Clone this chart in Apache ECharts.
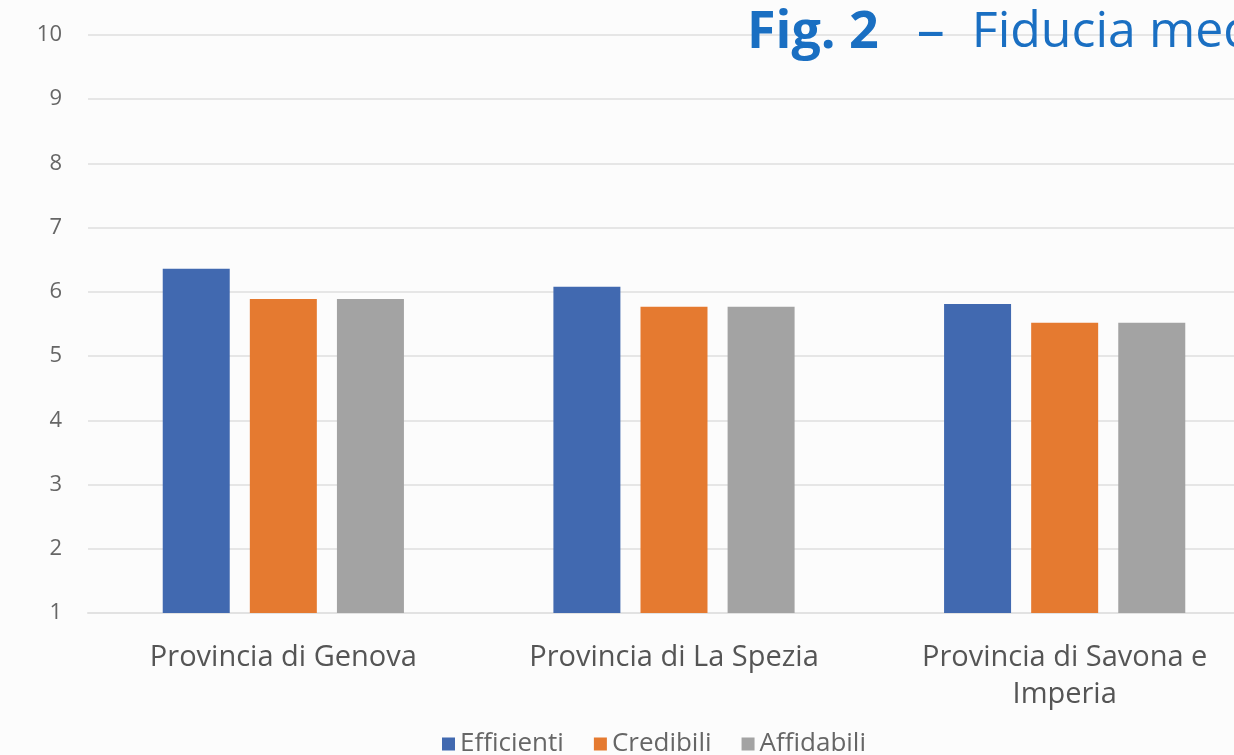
<!DOCTYPE html>
<html>
<head>
<meta charset="utf-8">
<script src="https://cdn.jsdelivr.net/npm/echarts@6/dist/echarts.min.js"></script>
<style>
  html, body { margin: 0; padding: 0; background: #fcfcfc; overflow: hidden; }
  #chart { width: 1260px; height: 755px; }
</style>
</head>
<body>
<div id="chart"></div>
<script>
const categories = ['Provincia di Genova', 'Provincia di La Spezia', 'Provincia di Savona e\nImperia'];
const efficienti = [6.36, 6.08, 5.81];
const credibili = [5.89, 5.77, 5.52];
const affidabili = [5.89, 5.77, 5.52];
const yTicks = [1, 10, 1]; // min, max, interval

// chart is slightly wider than the window: the right edge is cut off like in the source figure
const chart = echarts.init(document.getElementById('chart'));

const option = {
  animation: false,
  backgroundColor: '#fcfcfc',
  textStyle: { fontFamily: 'Open Sans' },
  title: {
    text: '{b|Fig. 2}{d|–}{r|Fiducia media}',
    left: 742,
    top: 0,
    textStyle: {
      color: '#1a6fc2',
      fontSize: 52,
      rich: {
        b: { color: '#1a6fc2', fontSize: 52, fontWeight: 'bold', fontFamily: 'Open Sans' },
        d: { color: '#1a6fc2', fontSize: 56, fontWeight: 'normal', fontFamily: 'Open Sans', padding: [0, 27, 0, 38] },
        r: { color: '#1a6fc2', fontSize: 50, fontWeight: 'normal', fontFamily: 'Open Sans' }
      }
    }
  },
  legend: {
    top: 726,
    left: 437,
    itemWidth: 13,
    itemHeight: 13,
    itemGap: 30,
    icon: 'rect',
    textStyle: { color: '#666', fontSize: 26, fontFamily: 'Open Sans' },
    data: ['Efficienti', 'Credibili', 'Affidabili']
  },
  grid: {
    left: 88,
    top: 35,
    right: 0,
    height: 578
  },
  xAxis: {
    type: 'category',
    data: categories,
    axisLine: { show: true, lineStyle: { color: '#e2e2e2', width: 2 } },
    axisTick: { show: false },
    axisLabel: {
      color: '#555',
      fontSize: 29,
      margin: 26,
      lineHeight: 37,
      fontFamily: 'Open Sans'
    }
  },
  yAxis: {
    type: 'value',
    min: yTicks[0],
    max: yTicks[1],
    interval: yTicks[2],
    axisLine: { show: false },
    axisTick: { show: false },
    axisLabel: { color: '#666', fontSize: 22, margin: 26, fontFamily: 'Open Sans' },
    splitLine: { lineStyle: { color: '#e6e6e6', width: 2 } }
  },
  series: [
    { name: 'Efficienti', type: 'bar', data: efficienti, barWidth: 67, barGap: '30%', itemStyle: { color: '#4169b0' } },
    { name: 'Credibili', type: 'bar', data: credibili, barWidth: 67, barGap: '30%', itemStyle: { color: '#e57a30' } },
    { name: 'Affidabili', type: 'bar', data: affidabili, barWidth: 67, barGap: '30%', itemStyle: { color: '#a3a3a3' } }
  ]
};

chart.setOption(option);
</script>
</body>
</html>
